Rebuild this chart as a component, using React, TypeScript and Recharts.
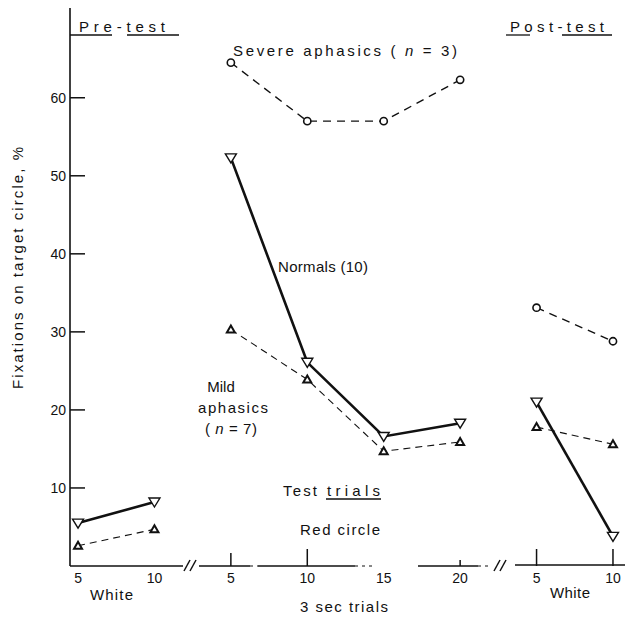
import React from 'react';
import { LineChart, Line, XAxis, YAxis, Customized } from 'recharts';

// trial labels for the three phases
const preTrials = ['5', '10'];
const testTrials = ['5', '10', '15', '20'];
const postTrials = ['5', '10'];

// % fixations on the target circle
const normalsPre = [5.5, 8.2];
const normalsTest = [52.3, 26.1, 16.6, 18.3];
const normalsPost = [21.0, 3.8];

const mildPre = [2.6, 4.7];
const mildTest = [30.3, 23.9, 14.7, 15.9];
const mildPost = [17.8, 15.6];

const severePre: number[] = [];
const severeTest = [64.5, 57.0, 57.0, 62.3];
const severePost = [33.1, 28.8];

const yTicks = [10, 20, 30, 40, 50, 60];

const phases = [
  { name: 'pre', trials: preTrials, normals: normalsPre, mild: mildPre, severe: severePre },
  { name: 'test', trials: testTrials, normals: normalsTest, mild: mildTest, severe: severeTest },
  { name: 'post', trials: postTrials, normals: normalsPost, mild: mildPost, severe: severePost },
];

// one row per trial slot, each phase has its own keys so lines break between phases
const data: any[] = [];
phases.forEach((p) =>
  p.trials.forEach((t, j) => {
    const row: any = { slot: data.length, label: t };
    row['normals_' + p.name] = p.normals[j];
    row['mild_' + p.name] = p.mild[j];
    if (p.severe[j] !== undefined) row['severe_' + p.name] = p.severe[j];
    data.push(row);
  })
);
const slots = data.map((d) => d.slot);

const INK = '#111';
const FONT = '"Liberation Sans", Arial, sans-serif';

const CircleDot = (p: any) =>
  p.cy == null ? (
    <g key={p.key ?? p.index} />
  ) : (
    <circle key={p.key ?? p.index} cx={p.cx} cy={p.cy} r={3.6} fill="#fff" stroke={INK} strokeWidth={1.6} />
  );

const DownTriangle = (p: any) =>
  p.cy == null ? (
    <g key={p.key ?? p.index} />
  ) : (
    <path
      key={p.key ?? p.index}
      d={`M${p.cx - 5.5},${p.cy - 4} L${p.cx + 5.5},${p.cy - 4} L${p.cx},${p.cy + 5} Z`}
      fill="#fff"
      stroke={INK}
      strokeWidth={1.4}
    />
  );

const UpTriangle = (p: any) =>
  p.cy == null ? (
    <g key={p.key ?? p.index} />
  ) : (
    <path
      key={p.key ?? p.index}
      d={`M${p.cx - 4},${p.cy + 3} L${p.cx + 4},${p.cy + 3} L${p.cx},${p.cy - 4} Z`}
      fill="#fff"
      stroke={INK}
      strokeWidth={2}
    />
  );

const YTick = (p: any) => (
  <g>
    <line x1={p.x} x2={p.x + 15} y1={p.y} y2={p.y} stroke={INK} strokeWidth={1.5} />
    <text x={p.x - 4} y={p.y + 5} textAnchor="end" fontSize={14} fontFamily={FONT} fill={INK}>
      {p.payload.value}
    </text>
  </g>
);

// upward tick marks on the broken x axis
const tickMarkLen = [0, 0, 13, 17, 0, 6, 17, 17];

const XTick = (p: any) => {
  const i = p.payload.value;
  return (
    <g>
      {tickMarkLen[i] > 0 && (
        <line x1={p.x} x2={p.x} y1={p.y} y2={p.y - tickMarkLen[i]} stroke={INK} strokeWidth={1.5} />
      )}
      <text x={p.x} y={p.y + 17} textAnchor="middle" fontSize={14} fontFamily={FONT} fill={INK}>
        {data[i].label}
      </text>
    </g>
  );
};

const txt = (x: number, y: number, s: React.ReactNode, len?: number, anchor = 'start') => (
  <text
    x={x}
    y={y}
    fontSize={15}
    fontFamily={FONT}
    fill={INK}
    textAnchor={anchor as any}
    textLength={len}
    lengthAdjust="spacing"
  >
    {s}
  </text>
);

const Overlay = () => (
  <g>
    {/* broken x axis */}
    <g stroke={INK} strokeWidth={1.5}>
      <line x1={70} x2={183} y1={566} y2={566} />
      <line x1={184} x2={190} y1={571} y2={560} />
      <line x1={190} x2={196} y1={571} y2={560} />
      <line x1={199} x2={250} y1={566} y2={566} />
      <line x1={258} x2={355} y1={566} y2={566} />
      <line x1={418} x2={478} y1={566} y2={566} />
      <line x1={494} x2={500} y1={571} y2={560} />
      <line x1={500} x2={506} y1={571} y2={560} />
      <line x1={515} x2={625} y1={565} y2={565} />
    </g>
    <g stroke={INK} strokeWidth={1} strokeDasharray="3 4">
      <line x1={250} x2={258} y1={566} y2={566} />
      <line x1={355} x2={375} y1={566} y2={566} />
      <line x1={478} x2={492} y1={566} y2={566} />
    </g>

    {/* phase headings */}
    {txt(79, 32, 'Pre-test', 86)}
    <line x1={70} x2={112} y1={35} y2={35} stroke={INK} strokeWidth={1.3} />
    <line x1={127} x2={179} y1={35} y2={35} stroke={INK} strokeWidth={1.3} />
    {txt(510, 32, 'Post-test', 94)}
    <line x1={506} x2={530} y1={35} y2={35} stroke={INK} strokeWidth={1.3} />
    <line x1={562} x2={612} y1={35} y2={35} stroke={INK} strokeWidth={1.3} />
    {txt(327, 496, 'trials', 53)}
    <line x1={326} x2={381} y1={499} y2={499} stroke={INK} strokeWidth={1.3} />
    {txt(283, 496, 'Test', 34)}

    {/* series labels */}
    {txt(
      233,
      56,
      <>
        Severe  aphasics  ( <tspan fontStyle="italic">n</tspan> = 3)
      </>,
      224
    )}
    {txt(278, 272, 'Normals (10)', 90)}
    {txt(221, 392, 'Mild', undefined, 'middle')}
    {txt(198, 413, 'aphasics', 70)}
    {txt(
      205,
      434,
      <>
        ( <tspan fontStyle="italic">n</tspan> = 7)
      </>,
      52
    )}

    {/* x axis captions */}
    {txt(300, 535, 'Red circle', 80)}
    {txt(90, 600, 'White', 43)}
    {txt(550, 598, 'White', 40)}
    {txt(300, 612, '3 sec trials', 88)}

    {/* y axis caption */}
    <text
      x={23}
      y={268}
      transform="rotate(-90, 23, 268)"
      fontSize={15}
      fontFamily={FONT}
      fill={INK}
      textAnchor="middle"
      textLength={242}
      lengthAdjust="spacing"
    >
      Fixations on target circle, %
    </text>
  </g>
);

export default function App() {
  return (
    <div style={{ position: 'absolute', left: 0, top: 0, width: 627, height: 623, background: '#fff' }}>
      <LineChart width={627} height={623} data={data} margin={{ top: 8, right: 6, bottom: 56, left: 69 }}>
        <XAxis
          dataKey="slot"
          type="number"
          domain={[-0.105, 7.105]}
          ticks={slots}
          interval={0}
          axisLine={false}
          tickLine={false}
          tickSize={0}
          tickMargin={0}
          height={1}
          tick={<XTick />}
        />
        <YAxis
          type="number"
          domain={[0, 71.5]}
          ticks={yTicks}
          width={1}
          axisLine={{ stroke: INK, strokeWidth: 1.6 }}
          tickLine={false}
          tickSize={0}
          tickMargin={0}
          tick={<YTick />}
        />
        {phases.map((p) => (
          <Line
            key={'n' + p.name}
            dataKey={'normals_' + p.name}
            stroke={INK}
            strokeWidth={2.6}
            dot={DownTriangle}
            activeDot={false}
            isAnimationActive={false}
          />
        ))}
        {phases.map((p) => (
          <Line
            key={'m' + p.name}
            dataKey={'mild_' + p.name}
            stroke={INK}
            strokeWidth={1.1}
            strokeDasharray="7 5"
            dot={UpTriangle}
            activeDot={false}
            isAnimationActive={false}
          />
        ))}
        {phases
          .filter((p) => p.severe.length > 0)
          .map((p) => (
            <Line
              key={'s' + p.name}
              dataKey={'severe_' + p.name}
              stroke={INK}
              strokeWidth={1.4}
              strokeDasharray="8 6"
              dot={CircleDot}
              activeDot={false}
              isAnimationActive={false}
            />
          ))}
        <Customized component={Overlay} />
      </LineChart>
    </div>
  );
}
